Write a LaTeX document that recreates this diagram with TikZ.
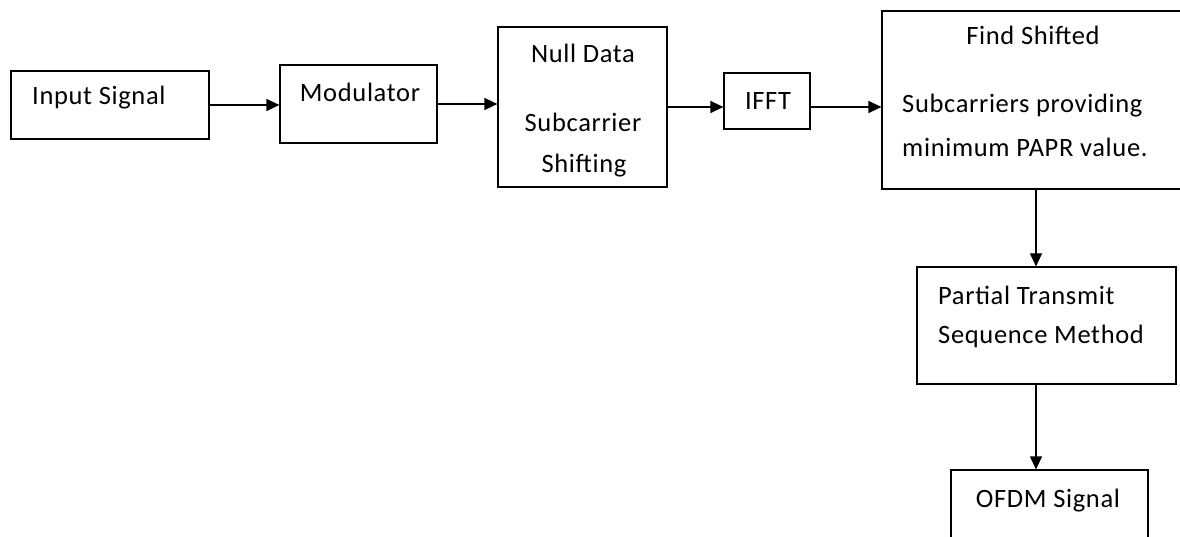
\documentclass[tikz,border=0pt]{standalone}
\usepackage{fontspec}
\setmainfont{Carlito}[LetterSpace=2.5]
\usetikzlibrary{arrows.meta}

\tikzset{
  blk/.style={draw, line width=1.2pt, inner sep=0pt},
  lbl/.style={font=\fontsize{26.5}{30}\selectfont, inner sep=0pt},
  >={Triangle[length=13pt,width=12pt]}
}

\begin{document}
\begin{tikzpicture}[x=1pt,y=-1pt]
    \useasboundingbox (0,0) rectangle (1180,537);
    \clip (0,0) rectangle (1180,537);
    % blocks
    \node[blk, minimum width=198, minimum height=68] (input) at (110,105) {};
    \node[blk, minimum width=157, minimum height=78] (mod) at (358.5,104) {};
    \node[blk, minimum width=169, minimum height=160] (null) at (582.5,107) {};
    \node[blk, minimum width=86, minimum height=56] (ifft) at (767,101) {};
    \node[blk, minimum width=308, minimum height=178] (find) at (1036,100) {};
    \node[blk, minimum width=259, minimum height=117] (pts) at (1046.5,325.5) {};
    \node[blk, minimum width=197, minimum height=90] (ofdm) at (1049.5,515) {};
    % texts
    \node[lbl, anchor=base west] (inputtxt) at (32,105) {Input Signal};
    \node[lbl, anchor=base] (modtxt) at (360,102) {Modulator};
    \node[lbl, anchor=base] (nulltxt) at (583,63) {Null Data};
    \node[lbl, anchor=base] (subtxt) at (583,132) {Subcarrier};
    \begin{scope}
        \clip (null.north west) rectangle ([yshift=11pt]null.south east);
        \node[lbl, anchor=base] (shifttxt) at (584,173) {Shifting};
    \end{scope}
    \node[lbl, anchor=base] (iffttxt) at (768,110) {IFFT};
    \node[lbl, anchor=base] (findtxt) at (1033,45) {Find Shifted};
    \node[lbl, anchor=base west] (findtxtb) at (902,113) {Subcarriers providing};
    \node[lbl, anchor=base west] (findtxtc) at (902,157) {minimum PAPR value.};
    \node[lbl, anchor=base west] (ptstxt) at (938,305) {Partial Transmit};
    \node[lbl, anchor=base west] (ptstxtb) at (938,343) {Sequence Method};
    \node[lbl, anchor=base] (ofdmtxt) at (1048,507) {OFDM Signal};
    % arrows
    \draw[->, line width=1.2pt] (input) -- (input -| mod.west);
    \draw[->, line width=1.2pt] (mod.east) -- (mod.east -| null.west);
    \draw[->, line width=1.2pt] (null.east) -- (null.east -| ifft.west);
    \draw[->, line width=1.2pt] (ifft.east |- null.east) -- (null.east -| find.west);
    \draw[->, line width=1.2pt] (find.south) -- (find.south |- pts.north);
    \draw[->, line width=1.2pt] (find.south |- pts.south) -- (find.south |- ofdm.north);
\end{tikzpicture}
\end{document}
